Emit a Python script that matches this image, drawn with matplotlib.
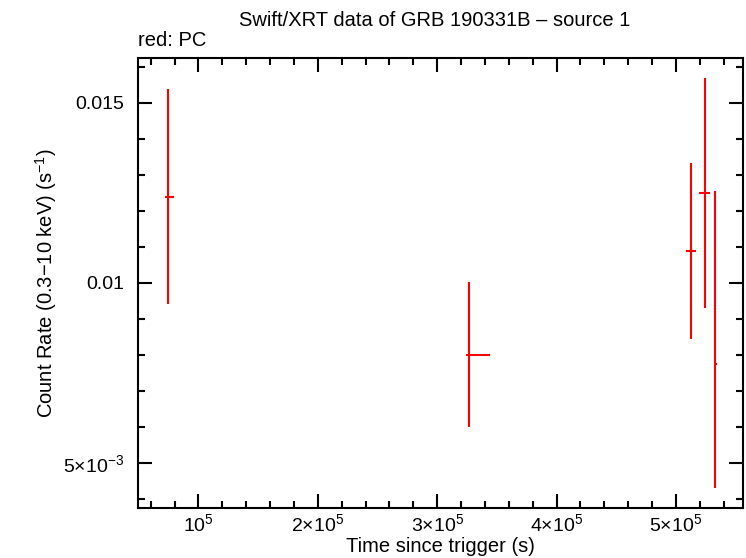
import numpy as np
import matplotlib
matplotlib.use("Agg")
from matplotlib import pyplot as plt
from matplotlib.ticker import FixedLocator, MultipleLocator

plt.rcParams['font.family'] = ['Liberation Sans', 'DejaVu Sans']
plt.rcParams['mathtext.fontset'] = 'custom'
plt.rcParams['mathtext.rm'] = 'Liberation Sans'
plt.rcParams['mathtext.default'] = 'regular'

# Swift/XRT PC mode bins (time since trigger in s, count rate in 1/s)
t_mid = [74600, 326800, 512600, 524300, 532700]
t_start = [72100, 324300, 508600, 519500, 532100]
t_stop = [79600, 344400, 517000, 528700, 534300]
rate = [0.01239, 0.00800, 0.01089, 0.01250, 0.00774]
rate_low = [0.00940, 0.00598, 0.00844, 0.00931, 0.00431]
rate_high = [0.01537, 0.01002, 0.01332, 0.01568, 0.01255]

x_ticks = [1e5, 2e5, 3e5, 4e5, 5e5]
x_tick_labels = ['10$^{5}$', '2\u00d710$^{5}$', '3\u00d710$^{5}$',
                 '4\u00d710$^{5}$', '5\u00d710$^{5}$']
y_ticks = [0.005, 0.01, 0.015]
y_tick_labels = ['5\u00d710$^{-3}$', '0.01', '0.015']

t_mid = np.array(t_mid)
rate = np.array(rate)
xerr = [t_mid - np.array(t_start), np.array(t_stop) - t_mid]
yerr = [rate - np.array(rate_low), np.array(rate_high) - rate]

fig = plt.figure(figsize=(7.46, 5.58), dpi=100)
ax = fig.add_axes([138 / 746, 50 / 558, 605 / 746, 450 / 558])

ax.errorbar(t_mid, rate, xerr=xerr, yerr=yerr, fmt='none',
            ecolor='#ff0000', elinewidth=1.5, capsize=0)

ax.set_xlim(49400, 556200)
ax.set_ylim(0.003742, 0.016242)

ax.xaxis.set_major_locator(FixedLocator(x_ticks))
ax.set_xticklabels(x_tick_labels)
ax.xaxis.set_minor_locator(MultipleLocator(2e4))
ax.yaxis.set_major_locator(FixedLocator(y_ticks))
ax.set_yticklabels(y_tick_labels)
ax.yaxis.set_minor_locator(MultipleLocator(0.001))

ax.tick_params(which='both', direction='in', top=True, right=True,
               width=1.5, labelsize=14)
ax.tick_params(which='major', length=10)
ax.tick_params(which='minor', length=5)
ax.tick_params(axis='y', pad=10)
ax.tick_params(axis='x', pad=4)
for s in ax.spines.values():
    s.set_linewidth(1.5)

ax.set_xlabel('Time since trigger (s)', fontsize=14.5)
ax.xaxis.label.set_va('center')
ax.xaxis.set_label_coords(0.5, (508 - 547) / 450)
ax.set_ylabel(r'Count Rate (0.3$-$10 keV) (s$^{-1}$)', fontsize=14.5)
ax.yaxis.label.set_va('center')
ax.yaxis.set_label_coords((46 - 138) / 605, 0.5)

fig.text(434.5 / 746, 1 - 20 / 558, 'Swift/XRT data of GRB 190331B \u2013 source 1',
         ha='center', va='center', fontsize=14.5)
fig.text(138 / 746, 1 - 41 / 558, 'red: PC', ha='left', va='center', fontsize=14.5)

fig.savefig('out.png', dpi=100)
